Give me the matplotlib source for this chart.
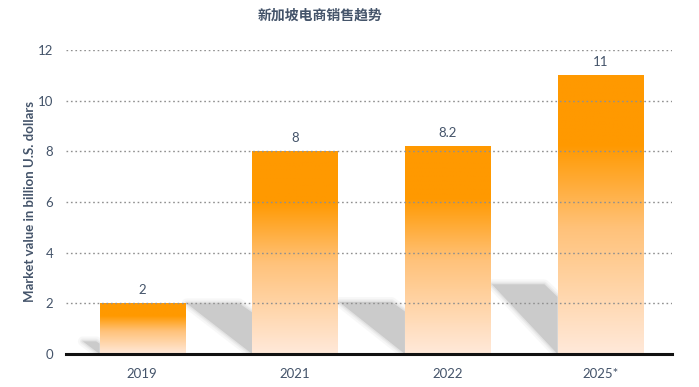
import numpy as np
import matplotlib.pyplot as plt
from matplotlib.colors import LinearSegmentedColormap
from matplotlib.patches import Polygon

plt.rcParams["font.family"] = ["Lato", "Noto Sans CJK SC", "DejaVu Sans"]

years = ["2019", "2021", "2022", "2025*"]
values = [2, 8, 8.2, 11]

title = "新加坡电商销售趋势"
ylabel = "Market value in billion U.S. dollars"
text_color = "#44546A"

fig = plt.figure(figsize=(6.99, 3.87), dpi=100)
ax = fig.add_axes([0.0944, 0.0853, 0.867, 0.786])

x = np.arange(len(values))
bar_w = 0.56

# bar fill: solid orange on top, fading to pale peach at the base
cmap = LinearSegmentedColormap.from_list(
    "fade", [(0, "#FFE9DA"), (0.45, "#FFC27A"), (0.75, "#FF9900"), (1, "#FF9900")]
)
grad = np.linspace(0, 1, 256).reshape(-1, 1)

for xi, v in zip(x, values):
    left = xi - bar_w / 2
    # soft shadow falling back-left of each bar
    s = 0.25 * v
    w = min(0.055 * v, 0.43)
    pts = [(left - w, s), (left - 0.2 * w, s), (left, 0.82 * s), (left, 0)]
    for lw, a in [(7, 0.12), (4, 0.18), (2, 0.25)]:
        ax.add_patch(Polygon(pts, closed=True, facecolor="none", edgecolor="#c4c4c4",
                             linewidth=lw, alpha=a, joinstyle="round", zorder=0.5))
    ax.add_patch(Polygon(pts, closed=True, facecolor="#cbcbcb", edgecolor="none", zorder=0.6))

    ax.imshow(grad, extent=(left, left + bar_w, 0, v), origin="lower", cmap=cmap,
              aspect="auto", interpolation="bilinear", zorder=2)
    ax.text(xi, v + 0.28, f"{v:g}", ha="center", va="bottom", fontsize=9.5, color=text_color)

ax.set_xlim(-0.5, 3.47)
ax.set_ylim(0, 12)
ax.set_yticks(range(0, 13, 2))
ax.set_xticks(x)
ax.set_xticklabels(years)
ax.tick_params(axis="both", length=0, labelsize=9.5, labelcolor=text_color)
ax.tick_params(axis="x", pad=10)
ax.tick_params(axis="y", pad=9)

ax.grid(axis="y", linestyle=(0, (1.2, 2)), color="#909090", linewidth=1, zorder=1)
ax.set_axisbelow(False)
for side in ["top", "right", "left"]:
    ax.spines[side].set_visible(False)
ax.spines["bottom"].set_linewidth(2.2)
ax.spines["bottom"].set_color("#111111")
ax.spines["bottom"].set_zorder(3)

ax.set_ylabel(ylabel, fontsize=9.5, fontweight="bold", color=text_color)
ax.yaxis.set_label_coords(-0.05, 0.5)
fig.text(0.458, 0.962, title, ha="center", va="center", fontsize=10,
         fontweight="bold", color=text_color)

fig.savefig("out.png", dpi=100)
